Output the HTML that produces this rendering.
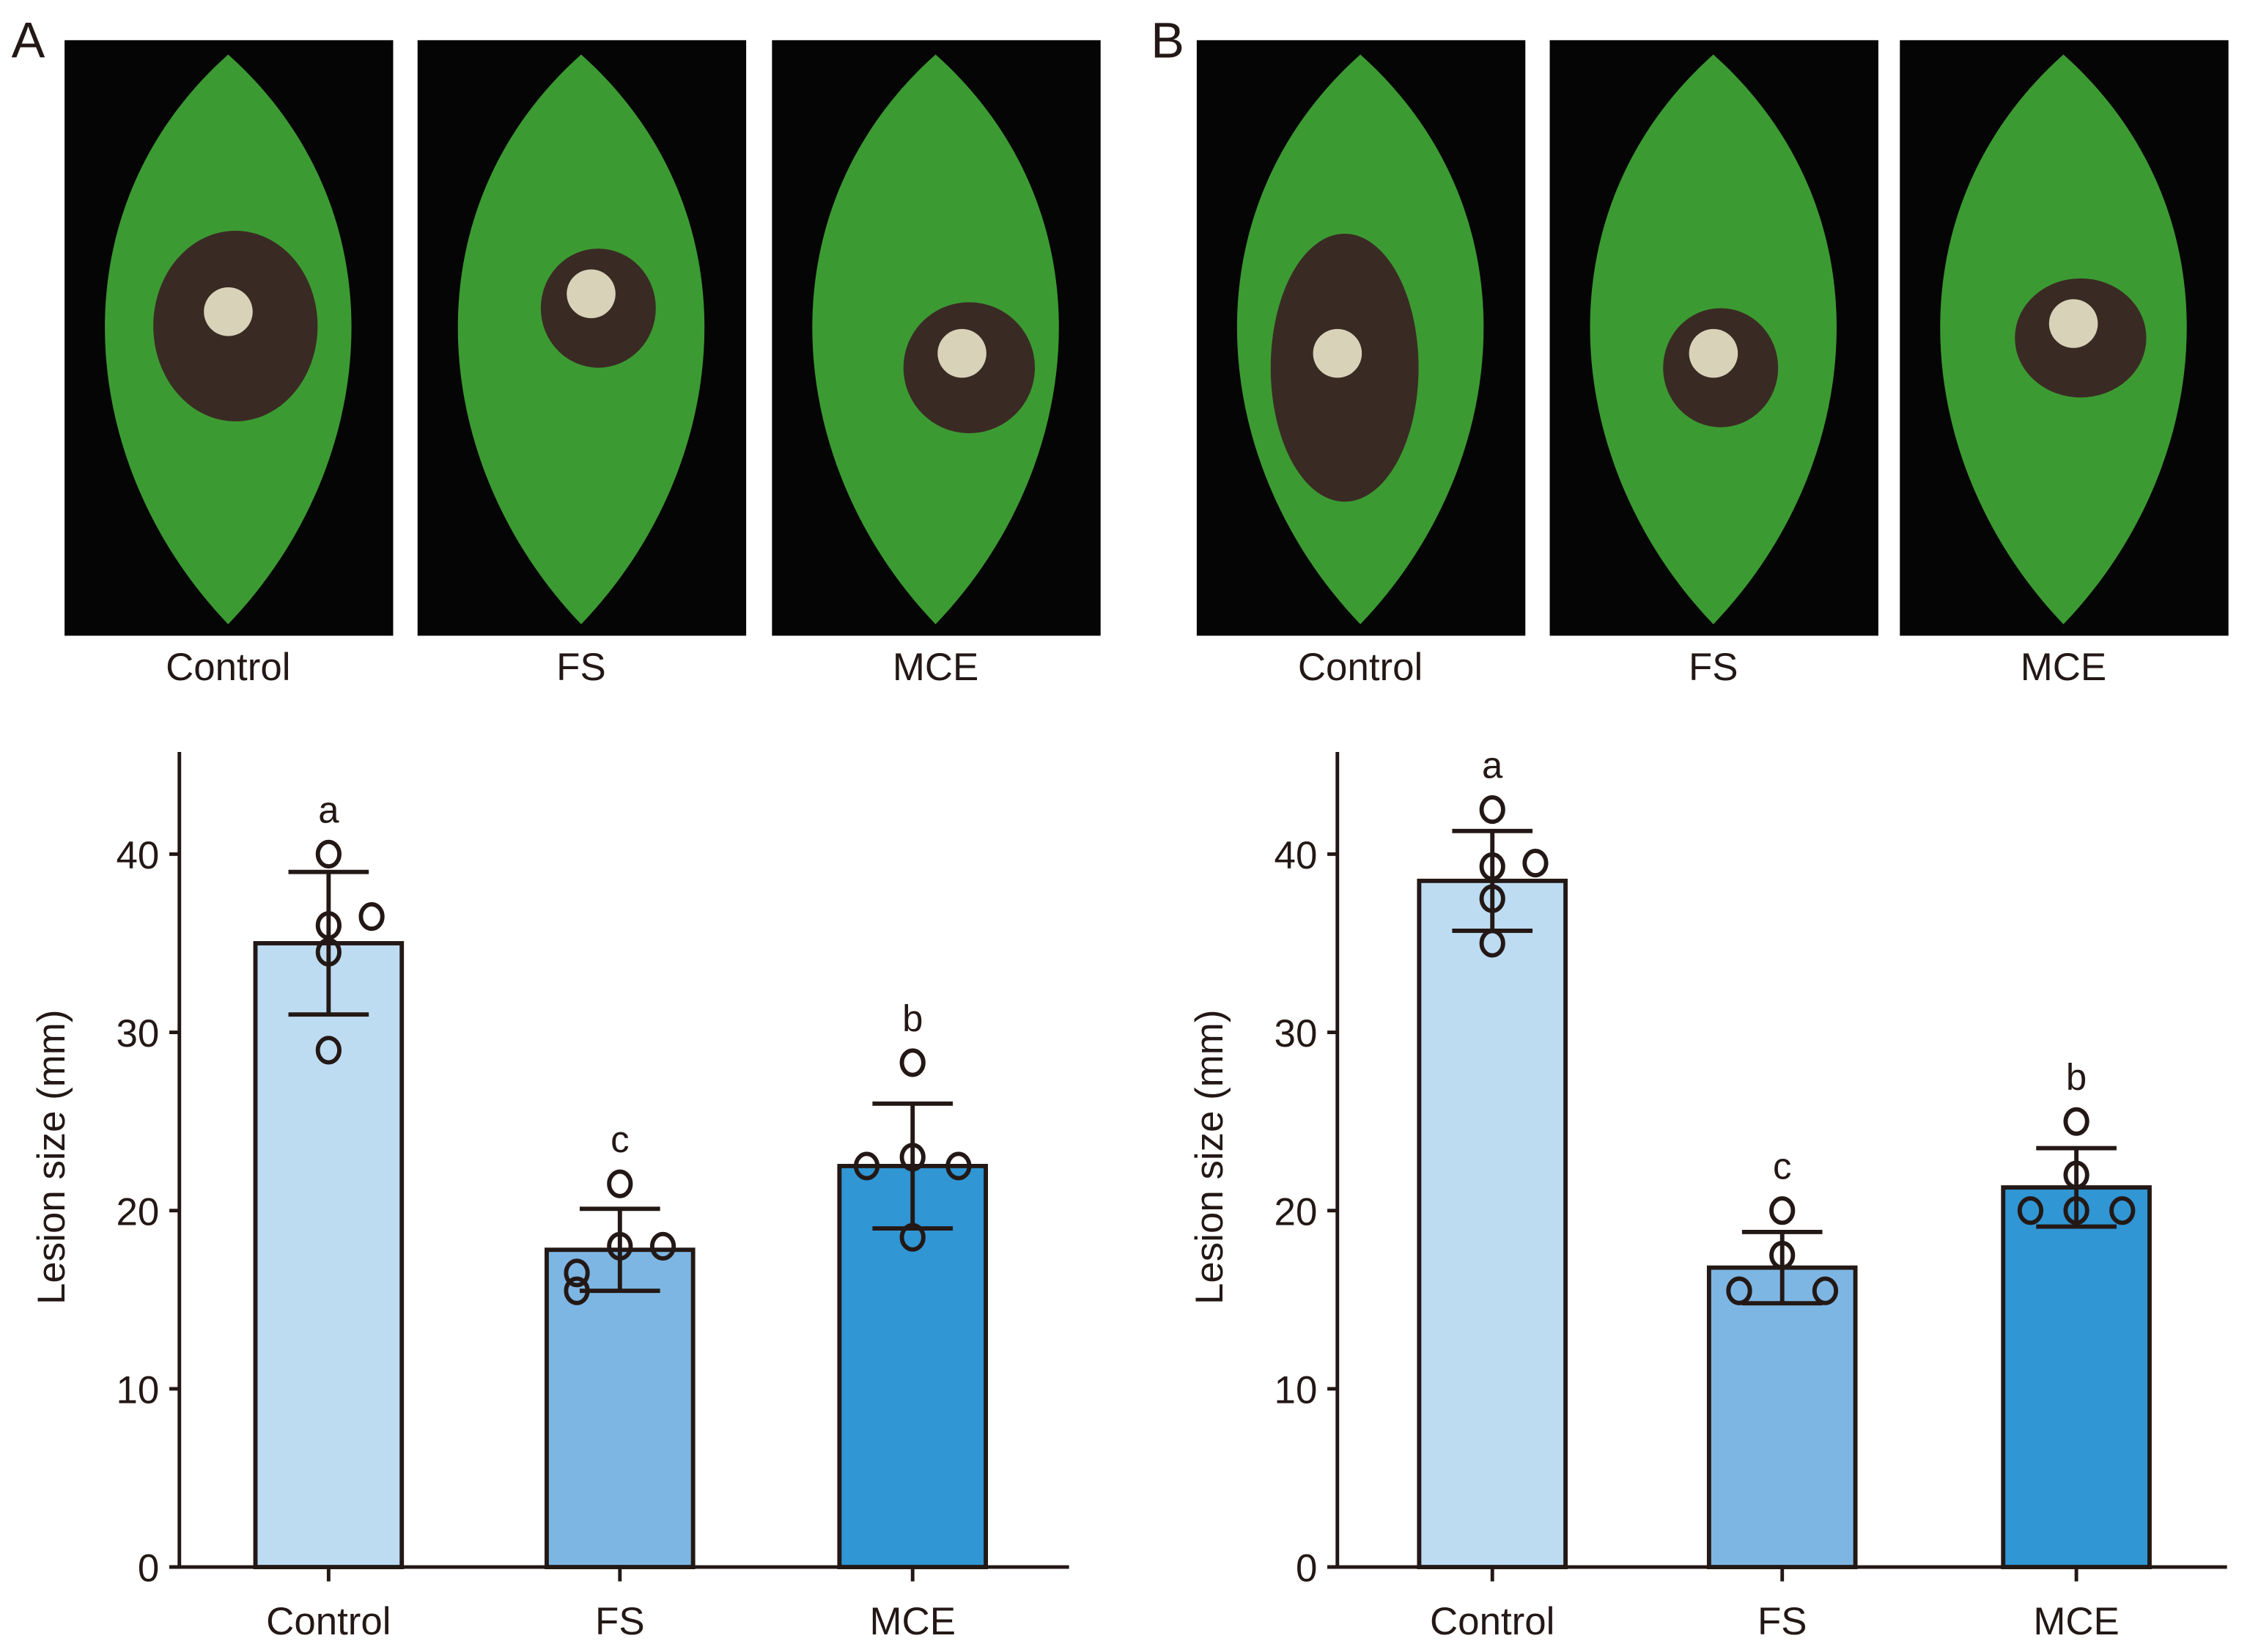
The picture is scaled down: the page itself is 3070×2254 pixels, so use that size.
<!DOCTYPE html>
<html><head><meta charset="utf-8"><style>
html,body{margin:0;padding:0;background:#fff;}
svg{display:block;}
text{font-family:"Liberation Sans",Arial,sans-serif;fill:#231815;}
</style></head><body>
<svg id="fig" width="3070" height="2254" viewBox="0 0 1568 1151.2" preserveAspectRatio="none" xmlns="http://www.w3.org/2000/svg">
<rect width="1568" height="1152" fill="#fff"/>
<g id="photos"></g>
<g id="chartA"></g>
<g id="chartB"></g>
</svg>
<script>
const categories = ["Control","FS","MCE"];
const meansA = [35.0, 17.8, 22.5];
const sdA = [4.0, 2.3, 3.5];
const pointsA = [[40,36.5,36,34.5,29],[21.5,18,18,16.5,15.5],[28.3,23,22.5,22.5,18.5]];
const lettersA = ["a","c","b"];
const meansB = [38.5, 16.8, 21.3];
const sdB = [2.8, 2.0, 2.2];
const pointsB = [[42.5,39.5,39.3,37.5,35],[20,17.5,15.5,15.5,15.5],[25,22,20,20,20]];
const lettersB = ["a","c","b"];
const yTicks = [0,10,20,30,40];

const NS="http://www.w3.org/2000/svg";
function mk(parent,tag,attrs,txt){const e=document.createElementNS(NS,tag);for(const k in attrs)e.setAttribute(k,attrs[k]);if(txt!==undefined)e.textContent=txt;parent.appendChild(e);return e;}

const photos=document.getElementById('photos');
const photoXs=[45,291,538,834,1080,1324];
const lesions=[[0.52,0.48,0.5,0.32],[0.55,0.45,0.35,0.2],[0.6,0.55,0.4,0.22],[0.45,0.55,0.45,0.45],[0.52,0.55,0.35,0.2],[0.55,0.5,0.4,0.2]];
photoXs.forEach((px,i)=>{
  const g=mk(photos,'g',{});
  
  
  mk(g,'rect',{x:px,y:28,width:229,height:415,fill:'#050505'});
  const cx=px+114,t=38,b=435,w=88;
  mk(g,'path',{d:`M${cx},${t} C${cx+w*1.4},${t+110} ${cx+w*1.2},${b-110} ${cx},${b} C${cx-w*1.2},${b-110} ${cx-w*1.4},${t+110} ${cx},${t}Z`,fill:'#3c9a32'});
  const L=lesions[i];
  mk(g,'ellipse',{cx:px+229*L[0],cy:28+415*L[1],rx:229*L[2]/2,ry:415*L[3]/2,fill:'#3a2a24'});
  mk(g,'ellipse',{cx:px+229*L[0]-5,cy:28+415*L[1]-10,rx:17,ry:17,fill:'#d8d2b8'});
  const lab=mk(photos,'text',{x:cx,y:474,'font-size':27,'text-anchor':'middle'},categories[i%3]);
  
  
});
mk(photos,'text',{x:8,y:40,'font-size':35},'A');
mk(photos,'text',{x:802,y:40,'font-size':35},'B');

const colors=['#bddcf2','#7db6e3','#3096d4'];
function drawChart(id,ax,means,sd,points,letters,barXs){
  const g=document.getElementById(id);
  const y0=1092,pxPer=12.42;
  const y=v=>y0-v*pxPer;
  const bw=102;
  const axes=mk(g,'g',{});
  
  
  mk(axes,'line',{x1:ax,y1:524,x2:ax,y2:y0,stroke:'#231815','stroke-width':2.5});
  mk(axes,'line',{x1:ax-7,y1:y0,x2:ax+620,y2:y0,stroke:'#231815','stroke-width':2.5});
  yTicks.forEach(v=>{
    mk(axes,'line',{x1:ax-7,y1:y(v),x2:ax,y2:y(v),stroke:'#231815','stroke-width':2.5});
    const t=mk(axes,'text',{x:ax-14,y:y(v)+10,'font-size':27,'text-anchor':'end'},v);
    
    
  });
  const yt=mk(axes,'text',{x:0,y:0,'font-size':27,'text-anchor':'middle',transform:`translate(${ax-80},${y(23)}) rotate(-90)`},'Lesion size (mm)');
  
  
  const jit=[[0,30,0,0,0],[0,0,30,-30,-30],[0,0,-32,32,0]];
  categories.forEach((c,i)=>{
    const cx=barXs[i]+bw/2;
    const bar=mk(g,'rect',{x:barXs[i],y:y(means[i]),width:bw,height:y0-y(means[i]),fill:colors[i],stroke:'#231815','stroke-width':3});
    
    
    mk(g,'line',{x1:cx,y1:y0,x2:cx,y2:y0+10,stroke:'#231815','stroke-width':2.5});
    const xl=mk(g,'text',{x:cx,y:1139,'font-size':27,'text-anchor':'middle'},c);
    
    
    const eb=mk(g,'g',{stroke:'#231815','stroke-width':3});
    
    
    mk(eb,'line',{x1:cx,y1:y(means[i]-sd[i]),x2:cx,y2:y(means[i]+sd[i])});
    mk(eb,'line',{x1:cx-28,y1:y(means[i]-sd[i]),x2:cx+28,y2:y(means[i]-sd[i])});
    mk(eb,'line',{x1:cx-28,y1:y(means[i]+sd[i]),x2:cx+28,y2:y(means[i]+sd[i])});
    points[i].forEach((v,j)=>{
      const p=mk(g,'ellipse',{cx:cx+jit[i][j],cy:y(v),rx:7.5,ry:8.5,fill:'none',stroke:'#231815','stroke-width':3});
      
      
    });
    const top=Math.max(means[i]+sd[i],...points[i]);
    const lt=mk(g,'text',{x:cx,y:y(top)-22,'font-size':26,'text-anchor':'middle'},letters[i]);
    
    
  });
}
drawChart('chartA',125,meansA,sdA,pointsA,lettersA,[178,381,585]);
drawChart('chartB',932,meansB,sdB,pointsB,lettersB,[989,1191,1396]);
</script>
</body></html>
